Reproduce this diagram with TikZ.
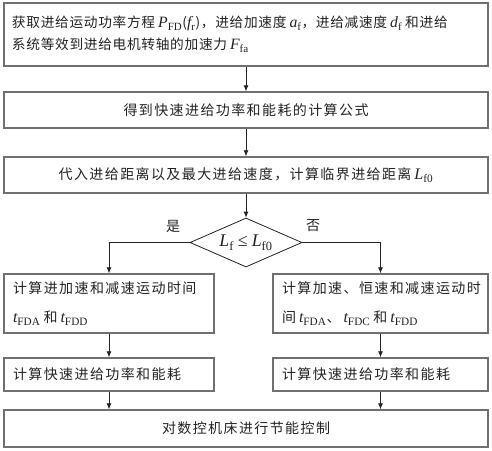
\documentclass[tikz,border=0pt]{standalone}
\usepackage{fontspec}
\setmainfont{Liberation Serif}
\newfontfamily\cjk[LetterSpace=10]{Noto Sans CJK SC}
\newfontfamily\cjktight[LetterSpace=5]{Noto Sans CJK SC}
\newfontfamily\lat[Scale=1.15]{Liberation Serif}
\usetikzlibrary{positioning,shapes.geometric,arrows.meta}
\definecolor{framegray}{RGB}{112,112,112}
\definecolor{inkgray}{RGB}{35,35,35}
\newcommand{\mvar}[2]{{\lat\itshape #1}\textsubscript{\lat #2}}
\newcommand{\gap}{\hspace{3pt}}

\begin{document}
\begin{tikzpicture}[x=1pt, y=-1pt, every node/.style={font=\cjk\fontsize{14}{20}\selectfont, text=inkgray}]
  \tikzstyle{box}=[rectangle, draw=framegray, line width=1.4pt, inner sep=0pt, align=center]
  \tikzstyle{decision}=[diamond, aspect=2.3, draw=inkgray, line width=0.8pt, minimum width=112pt, minimum height=49pt, inner sep=0pt, font=\cjk\fontsize{15.5}{20}\selectfont]
  \tikzstyle{flow}=[-{Latex[length=6pt,width=5pt]}, line width=0.8pt, inkgray]
  \useasboundingbox (0,0) rectangle (492,450);
  \node[box, minimum width=484pt, minimum height=63pt, text width=468pt, align=left, font=\cjktight\fontsize{13.7}{22}\selectfont] (get) at (246,34.5) {获取进给运动功率方程\gap\mvar{P}{FD}({\lat\itshape f}\textsubscript{\lat r})，进给加速度\gap\mvar{a}{f}，进给减速度\gap\mvar{d}{f}\gap 和进给\\系统等效到进给电机转轴的加速力\gap\mvar{F}{fa}};
  \node[box, minimum width=484pt, minimum height=36pt] (formula) at (246,110) {得到快速进给功率和能耗的计算公式};
  \node[box, minimum width=484pt, minimum height=36pt] (subst) at (246,175) {代入进给距离以及最大进给速度，计算临界进给距离\gap\mvar{L}{f0}};
  \node[decision] (cmp) at (246,242.5) {\mvar{L}{f}\hspace{4pt}{\lat ≤}\hspace{4pt}\mvar{L}{f0}};
  \node (yes) at (173,226) {是};
  \node (no) at (313,226) {否};
  \node[box, minimum width=210pt, minimum height=59pt, text width=192pt, align=left, font=\cjk\fontsize{14}{29}\selectfont] (timeA) at (109,303.5) {计算进加速和减速运动时间\\\mvar{t}{FDA}\gap 和\gap\mvar{t}{FDD}};
  \node[box, minimum width=215pt, minimum height=59pt, text width=197pt, align=left, font=\cjk\fontsize{14}{29}\selectfont] (timeB) at (380.5,303.5) {计算加速、恒速和减速运动时\\间\gap\mvar{t}{FDA}、\gap\mvar{t}{FDC}\gap 和\gap\mvar{t}{FDD}};
  \node[box, minimum width=210pt, minimum height=33pt, text width=192pt, align=left] (energyA) at (109,374.5) {计算快速进给功率和能耗};
  \node[box, minimum width=215pt, minimum height=33pt, text width=197pt, align=left] (energyB) at (380.5,374.5) {计算快速进给功率和能耗};
  \node[box, minimum width=484pt, minimum height=37pt] (control) at (246,428.5) {对数控机床进行节能控制};
  \draw[flow] (get) -- (formula);
  \draw[flow] (formula) -- (subst);
  \draw[flow] (subst) -- (cmp);
  \draw[flow] (cmp.west) -| (timeA.north);
  \draw[flow] (cmp.east) -| (timeB.north);
  \draw[flow] (timeA) -- (energyA);
  \draw[flow] (timeB) -- (energyB);
  \draw[flow] (energyA) -- (energyA |- control.north);
  \draw[flow] (energyB) -- (energyB |- control.north);
\end{tikzpicture}
\end{document}
